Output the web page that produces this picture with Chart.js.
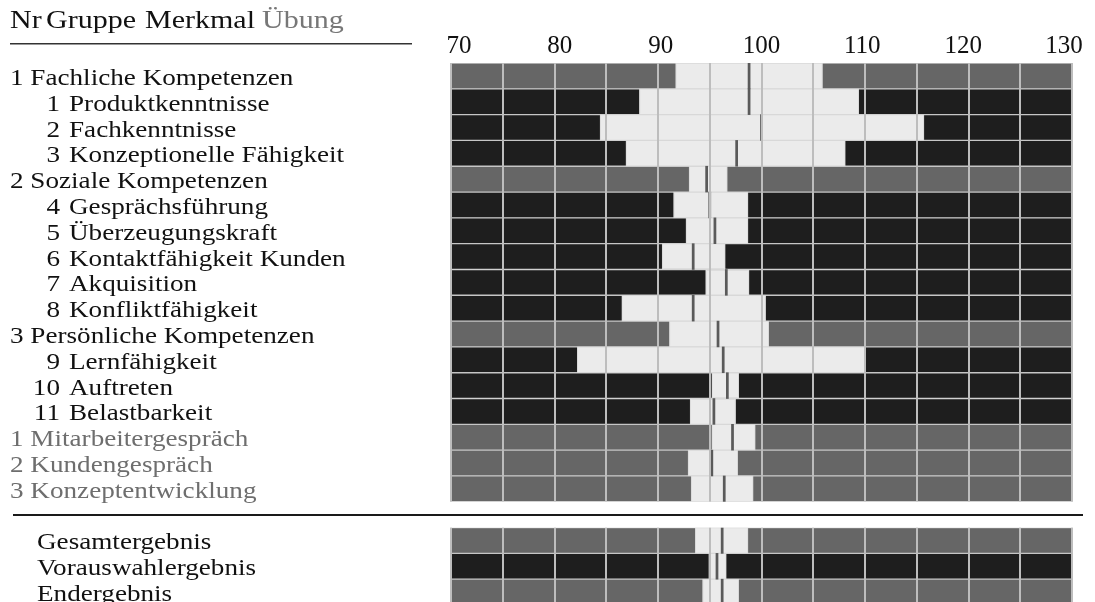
<!DOCTYPE html>
<html>
<head>
<meta charset="utf-8">
<script src="https://cdn.jsdelivr.net/npm/chart.js@4.4.1/dist/chart.umd.min.js"></script>
<style>
  html, body { margin: 0; padding: 0; background: #fff; overflow: hidden; }
  #wrap { width: 1095px; height: 610px; }
</style>
</head>
<body>
<div id="wrap"><canvas id="profil" width="1095" height="610"></canvas></div>
<script>
// Zeilen: Nummer, Bezeichnung, Art (group / item / exercise / spacer / total)
const rowNr = ["1", "1", "2", "3", "2", "4", "5", "6", "7", "8", "3", "9", "10", "11", "1", "2", "3", "", "", "", ""];
const rowName = [
  "Fachliche Kompetenzen", "Produktkenntnisse", "Fachkenntnisse", "Konzeptionelle Fähigkeit",
  "Soziale Kompetenzen", "Gesprächsführung", "Überzeugungskraft", "Kontaktfähigkeit Kunden",
  "Akquisition", "Konfliktfähigkeit", "Persönliche Kompetenzen", "Lernfähigkeit",
  "Auftreten", "Belastbarkeit", "Mitarbeitergespräch", "Kundengespräch",
  "Konzeptentwicklung", "", "Gesamtergebnis", "Vorauswahlergebnis", "Endergebnis"
];
const rowKind = [
  "group", "item", "item", "item",
  "group", "item", "item", "item", "item", "item",
  "group", "item", "item", "item",
  "exercise", "exercise", "exercise",
  "spacer", "total", "totalDark", "total"
];

// Werte: Spannweite (min - max) und Mittelwert
const lowValues = [91.7, 88.2, 84.4, 86.9, 93.0, 91.5, 92.7, 90.4, 94.6, 86.5, 91.1, 82.2, 95.2, 93.1, 95.2, 92.9, 93.2, null, 93.6, 94.9, 94.3];
const highValues = [105.9, 109.4, 115.7, 108.1, 96.7, 98.7, 98.7, 96.5, 98.8, 100.4, 100.7, 110.0, 97.8, 97.5, 99.4, 97.7, 99.2, null, 98.7, 96.6, 97.8];
const meanValues = [98.8, 98.8, 100.0, 97.6, 94.7, 95.0, 95.5, 93.4, 96.6, 93.4, 95.8, 96.3, 96.7, 95.4, 97.2, 95.2, 96.4, null, 96.2, 95.7, 96.2];

const scaleMin = 70;
const scaleMax = 130;
const tickStep = 5;
const tickLabels = [70, 80, 90, 100, 110, 120, 130];

const DARK = "#1e1e1e";
const GREY = "#666666";
const LIGHT = "#ebebeb";

const bgColors = rowKind.map(k => (k === "item" || k === "totalDark") ? DARK : GREY);

const SERIF = "'Liberation Serif', 'Times New Roman', serif";

// Beschriftungen links, Skala oben, Trennlinien
const labelPlugin = {
  id: "labels",
  afterDraw(chart) {
    const ctx = chart.ctx;
    const x = chart.scales.x;
    const y = chart.scales.y;
    const area = chart.chartArea;
    const step = (area.bottom - area.top) / rowName.length;

    function text(str, px, py, color, size, align, sx) {
      ctx.save();
      ctx.font = size + "px " + SERIF;
      ctx.fillStyle = color;
      ctx.textBaseline = "alphabetic";
      ctx.textAlign = align || "left";
      ctx.translate(px, py);
      ctx.scale(sx || 1.18, 1);
      ctx.fillText(str, 0, 0);
      ctx.restore();
    }

    // Leerzeile freistellen
    const sp = rowKind.indexOf("spacer");
    const cy = y.getPixelForValue(sp);
    ctx.save();
    ctx.fillStyle = "#fff";
    ctx.fillRect(area.left - 2, cy - step / 2, area.right - area.left + 4, step);
    ctx.fillStyle = "#1a1a1a";
    ctx.fillRect(13, Math.round(cy) - 1, 1070, 2);
    ctx.restore();

    // Skalenbeschriftung (leicht zur Mitte gezogen wie im Original)
    tickLabels.forEach(v => {
      const px = x.getPixelForValue(v) - (v - 100) / 30 * 8;
      text(String(v), px, 53, "#111", 25, "center", 1);
    });

    // Kopfzeile
    text("Nr", 10, 28, "#111", 25, "left", 1.2);
    text("Gruppe", 46, 28, "#111", 25, "left", 1.2);
    text("Merkmal", 145, 28, "#111", 25, "left", 1.2);
    text("Übung", 262, 28, "#777", 25, "left", 1.2);
    ctx.fillStyle = "#333";
    ctx.fillRect(10, 43, 402, 1.5);

    rowName.forEach((name, i) => {
      const kind = rowKind[i];
      if (kind === "spacer") return;
      const base = y.getPixelForValue(i) + 9;
      if (kind === "group") {
        text(rowNr[i] + " " + name, 10, base, "#111", 23);
      } else if (kind === "exercise") {
        text(rowNr[i] + " " + name, 10, base, "#6e6e6e", 23);
      } else if (kind === "item") {
        text(rowNr[i], 60, base, "#111", 23, "right");
        text(name, 69, base, "#111", 23);
      } else {
        text(name, 37, base, "#111", 23);
      }
    });
  }
};

new Chart(document.getElementById("profil"), {
  type: "bar",
  data: {
    labels: rowName,
    datasets: [
      {
        label: "Hintergrund",
        data: rowKind.map(k => k === "spacer" ? null : [scaleMin, scaleMax]),
        backgroundColor: bgColors,
        borderColor: "#c6c6c6",
        borderWidth: 1,
        borderSkipped: false,
        barPercentage: 1,
        categoryPercentage: 1,
        grouped: false,
        order: 3
      },
      {
        label: "Spannweite",
        data: lowValues.map((v, i) => v === null ? null : [v, highValues[i]]),
        backgroundColor: LIGHT,
        borderColor: "#d8d8d8",
        borderWidth: 1,
        borderSkipped: false,
        barPercentage: 1,
        categoryPercentage: 1,
        grouped: false,
        order: 2
      },
      {
        label: "Mittelwert",
        data: meanValues.map(v => v === null ? null : [v - 0.1, v + 0.1]),
        backgroundColor: "#5a5a5a",
        borderWidth: 0,
        barPercentage: 1,
        categoryPercentage: 1,
        grouped: false,
        order: 1
      }
    ]
  },
  options: {
    indexAxis: "y",
    responsive: false,
    animation: false,
    devicePixelRatio: 1,
    layout: { padding: { left: 451, right: 23, top: 63, bottom: 5 } },
    plugins: {
      legend: { display: false },
      tooltip: { enabled: false }
    },
    scales: {
      x: {
        position: "top",
        min: scaleMin,
        max: scaleMax,
        border: { display: false },
        grid: {
          z: 1,
          color: "#bdbdbd",
          lineWidth: 2,
          drawTicks: false
        },
        ticks: {
          display: false,
          stepSize: tickStep,
          autoSkip: false
        }
      },
      y: {
        display: false,
        grid: { display: false }
      }
    }
  },
  plugins: [labelPlugin]
});
</script>
</body>
</html>
